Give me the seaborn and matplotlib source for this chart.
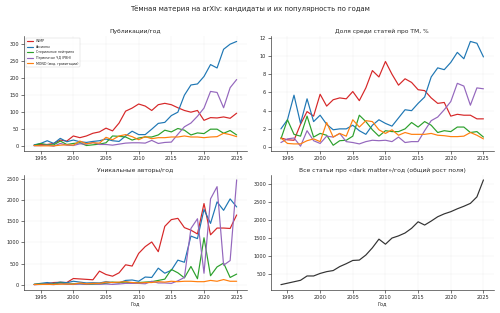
import numpy as np
import pandas as pd
import matplotlib
matplotlib.use("Agg")
import matplotlib.pyplot as plt
import seaborn as sns

years = list(range(1994, 2026))

labels = ["WIMP", "Аксионы", "Стерильные нейтрино", "Первичные ЧД (PBH)", "MOND (мод. гравитации)"]
colors = ["#d62728", "#1f77b4", "#2ca02c", "#9467bd", "#ff7f0e"]

# publications per year
pubs_wimp = [3, 5, 5, 8, 18, 15, 30, 25, 30, 38, 42, 53, 45, 68, 103, 112, 124, 118, 105, 122, 126, 122, 113, 105, 100, 105, 76, 84, 83, 86, 82, 97]
pubs_axion = [4, 8, 16, 8, 23, 13, 18, 13, 11, 14, 16, 21, 16, 14, 30, 44, 34, 34, 50, 67, 70, 90, 100, 150, 180, 183, 205, 240, 230, 285, 300, 308]
pubs_sterile = [2, 8, 4, 4, 15, 5, 8, 10, 2, 4, 6, 10, 30, 29, 27, 18, 24, 27, 27, 33, 47, 42, 52, 47, 33, 39, 37, 50, 50, 38, 46, 33]
pubs_pbh = [1, 2, 3, 0, 8, 3, 2, 7, 6, 11, 5, 5, 3, 6, 9, 10, 10, 9, 17, 8, 11, 12, 35, 57, 68, 88, 112, 161, 158, 113, 172, 196]
pubs_mond = [2, 1, 1, 1, 3, 4, 3, 15, 7, 10, 9, 26, 19, 30, 34, 28, 19, 28, 22, 25, 25, 27, 27, 30, 27, 27, 25, 27, 28, 38, 34, 28]

# share among dark matter papers, %
share_wimp = [1.0, 0.8, 0.75, 2.5, 3.9, 3.4, 5.8, 4.5, 5.2, 5.4, 5.3, 6.1, 5.1, 6.5, 8.4, 7.7, 9.4, 8.0, 6.8, 7.5, 7.1, 6.3, 6.2, 5.4, 4.8, 4.9, 3.4, 3.6, 3.5, 3.5, 3.1, 3.1]
share_axion = [2.0, 3.0, 5.7, 2.6, 5.3, 2.8, 3.5, 2.5, 1.9, 2.0, 2.0, 2.4, 1.8, 1.4, 2.4, 3.0, 2.6, 2.3, 3.2, 4.1, 4.0, 4.8, 5.5, 7.7, 8.7, 8.5, 9.3, 10.4, 9.7, 11.6, 11.4, 9.9]
share_sterile = [0.9, 3.0, 1.4, 1.2, 3.4, 1.1, 1.5, 1.3, 0.2, 0.7, 0.75, 1.2, 3.5, 2.8, 1.9, 1.2, 1.8, 1.7, 1.7, 2.0, 2.7, 2.2, 2.8, 2.4, 1.6, 1.8, 1.7, 2.2, 2.2, 1.6, 1.7, 1.1]
share_pbh = [0.5, 0.9, 1.0, 0.1, 1.8, 0.7, 0.4, 1.2, 1.1, 1.5, 0.6, 0.5, 0.35, 0.6, 0.75, 0.7, 0.75, 0.6, 1.1, 0.5, 0.6, 0.6, 1.8, 2.9, 3.3, 4.1, 5.0, 7.0, 6.7, 4.6, 6.5, 6.4]
share_mond = [1.0, 0.4, 0.35, 0.35, 0.7, 0.9, 0.6, 2.7, 1.1, 1.5, 1.2, 3.0, 2.2, 2.9, 2.8, 1.9, 1.5, 1.9, 1.3, 1.6, 1.4, 1.4, 1.4, 1.5, 1.3, 1.25, 1.15, 1.15, 1.2, 1.6, 1.3, 0.9]

# unique authors per year
auth_wimp = [0, 10, 20, 50, 55, 50, 145, 135, 125, 115, 320, 240, 200, 280, 470, 440, 740, 900, 1010, 780, 1380, 1540, 1570, 1350, 1290, 1200, 1920, 1180, 1340, 1340, 1330, 1650]
auth_axion = [10, 30, 50, 30, 60, 45, 80, 60, 40, 45, 40, 70, 50, 40, 100, 110, 80, 180, 170, 390, 270, 340, 580, 530, 1150, 1090, 1780, 1450, 1960, 1760, 2030, 1840]
auth_sterile = [5, 15, 10, 10, 40, 15, 20, 20, 5, 10, 15, 30, 60, 50, 60, 40, 50, 60, 70, 100, 130, 360, 280, 160, 430, 140, 1110, 210, 420, 510, 170, 250]
auth_pbh = [0, 5, 10, 0, 20, 10, 5, 15, 10, 20, 10, 15, 5, 15, 30, 30, 30, 20, 80, 40, 40, 30, 90, 170, 1330, 1560, 270, 2030, 2320, 460, 570, 2480]
auth_mond = [5, 5, 5, 5, 10, 15, 10, 40, 20, 30, 30, 60, 50, 60, 70, 50, 40, 50, 50, 70, 60, 80, 70, 80, 80, 70, 70, 100, 80, 120, 80, 80]

# all "dark matter" papers per year
total_dm = [200, 240, 280, 320, 440, 440, 510, 560, 590, 700, 780, 870, 880, 1020, 1220, 1460, 1320, 1490, 1550, 1630, 1760, 1940, 1850, 1960, 2080, 2160, 2220, 2300, 2370, 2450, 2630, 3100]


def long_df(series):
    frames = []
    for lab, vals in zip(labels, series):
        frames.append(pd.DataFrame({"Год": years, "value": vals, "cand": lab}))
    return pd.concat(frames, ignore_index=True)


sns.set_theme(style="ticks")
plt.rcParams["font.family"] = ["DejaVu Sans"]
pal = dict(zip(labels, colors))

fig, axes = plt.subplots(2, 2, figsize=(14, 8.764), dpi=500 / 14)

panels = [
    (axes[0, 0], [pubs_wimp, pubs_axion, pubs_sterile, pubs_pbh, pubs_mond], "Публикации/год", True),
    (axes[0, 1], [share_wimp, share_axion, share_sterile, share_pbh, share_mond], "Доля среди статей про ТМ, %", False),
    (axes[1, 0], [auth_wimp, auth_axion, auth_sterile, auth_pbh, auth_mond], "Уникальные авторы/год", False),
]

for ax, series, title, show_leg in panels:
    sns.lineplot(data=long_df(series), x="Год", y="value", hue="cand", palette=pal,
                 linewidth=2.4, ax=ax, legend=show_leg)
    ax.set_title(title, fontsize=12)
    ax.set_ylabel("")
    if show_leg:
        ax.legend(loc="upper left", fontsize=6.5, frameon=True, title=None)

ax = axes[1, 1]
sns.lineplot(x=years, y=total_dm, color="#333333", linewidth=2.4, ax=ax)
ax.set_title("Все статьи про «dark matter»/год (общий рост поля)", fontsize=12)
ax.set_xlabel("Год")

axes[0, 0].set_xlabel("")
axes[0, 1].set_xlabel("")
axes[1, 0].set_xlabel("Год")

for ax in axes.flat:
    ax.grid(True, alpha=0.3)
    ax.set_xticks([1995, 2000, 2005, 2010, 2015, 2020, 2025])
    ax.tick_params(labelsize=10)
    ax.xaxis.label.set_size(10)
sns.despine()

fig.suptitle("Тёмная материя на arXiv: кандидаты и их популярность по годам", fontsize=14, y=0.985)
fig.tight_layout(rect=[0, 0, 1, 0.97])
fig.savefig("out.png", dpi=500 / 14)
